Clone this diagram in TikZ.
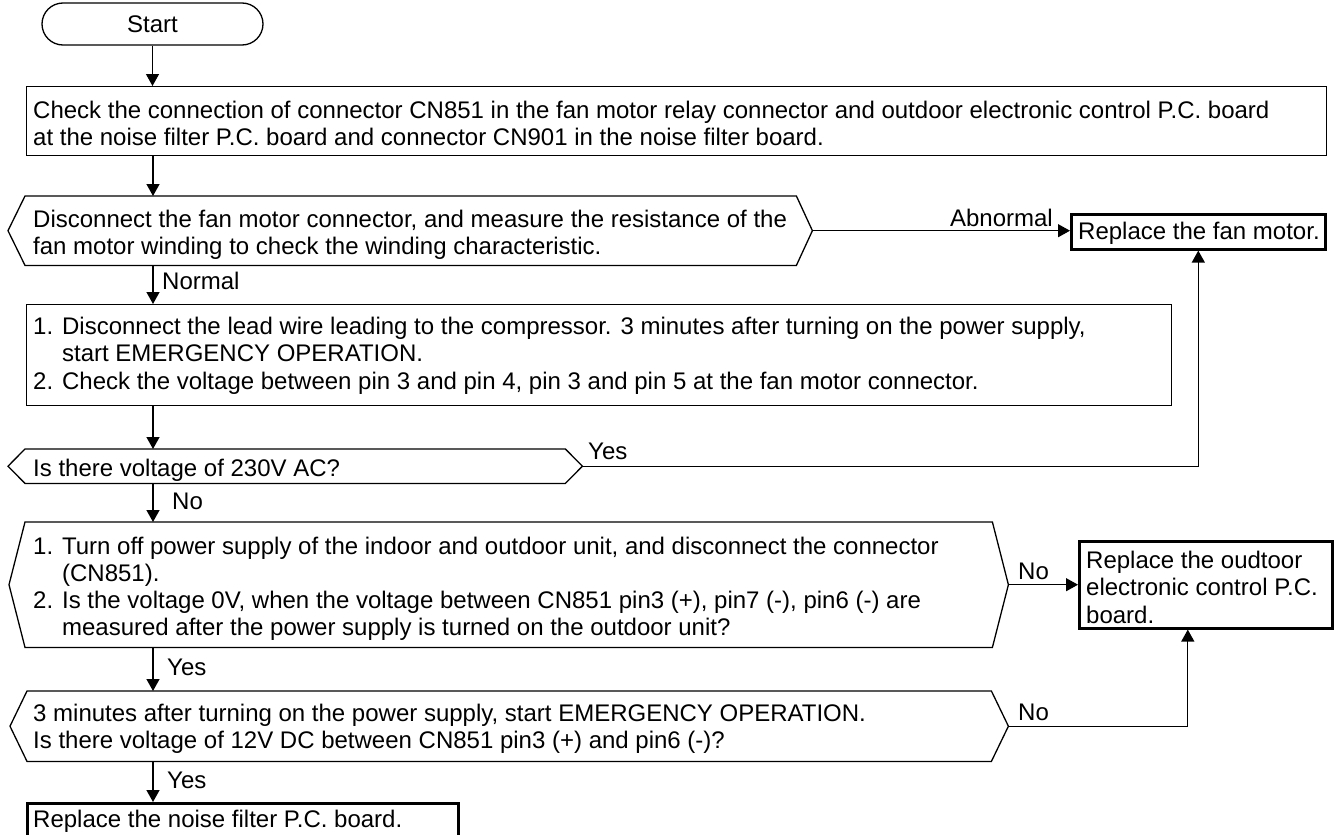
\documentclass[tikz,border=0pt]{standalone}
\usepackage{fontspec}
\setmainfont{Liberation Sans}
\usetikzlibrary{arrows.meta}
\newcommand\hexshape[3]{\draw[outline] (#1.west) -- ([xshift=#2]#1.north west) -- ([xshift=-#3]#1.north east) -- (#1.east) -- ([xshift=-#3]#1.south east) -- ([xshift=#2]#1.south west) -- cycle;}
\begin{document}
\begin{tikzpicture}[x=1pt,y=-1pt,
  fnt/.style={font=\fontsize{24.0}{27.3}\selectfont},
  txt/.style={fnt, inner sep=0pt, align=left, anchor=north west},
  lbl/.style={fnt, inner sep=0pt, anchor=base west},
  outline/.style={draw=black, line width=1.3pt},
  thickbox/.style={draw=black, line width=2.6pt, inner sep=0pt, anchor=north west},
  area/.style={inner sep=0pt, anchor=north west},
  flow/.style={draw=black, line width=1.3pt, -{Triangle[length=12pt,width=13pt]}},
  link/.style={draw=black, line width=1.3pt}]
\useasboundingbox (0,0) rectangle (1339,835);
\coordinate (spine) at (153,0);

% shapes
\node[outline, fnt, rounded corners=21pt, minimum width=221pt, minimum height=42pt, inner sep=0pt] (start) at (152.5,24) {Start};
\node[outline, area, minimum width=1300pt, minimum height=69pt] (b1) at (26,86) {};
\node[area, minimum width=804pt, minimum height=69pt] (h1) at (8,196) {};
\hexshape{h1}{17pt}{16pt}
\node[thickbox, minimum width=254pt, minimum height=35pt] (fan) at (1070,213) {};
\node[outline, area, minimum width=1145pt, minimum height=101pt] (b2) at (26,304) {};
\node[area, minimum width=574pt, minimum height=34pt] (h2) at (8,449) {};
\hexshape{h2}{17pt}{17pt}
\node[area, minimum width=999pt, minimum height=125pt] (h3) at (9,522) {};
\hexshape{h3}{16pt}{16pt}
\node[thickbox, minimum width=253pt, minimum height=87pt] (od) at (1078,540) {};
\node[area, minimum width=998pt, minimum height=70pt] (h4) at (10,691) {};
\hexshape{h4}{17pt}{17pt}
\node[thickbox, minimum width=431pt, minimum height=33pt] (fin) at (26,802) {};

% texts
\node[txt] (tb1) at (33,101) {Check the connection of connector CN851 in the fan motor relay connector and outdoor electronic control P.C. board\\at the noise filter P.C. board and connector CN901 in the noise filter board.};
\node[txt] (th1) at (33,210) {Disconnect the fan motor connector, and measure the resistance of the\\fan motor winding to check the winding characteristic.};
\node[txt] (tfan) at (1078,222) {Replace the fan motor.};
\node[txt] (tb2) at (33,317) {1. Disconnect the lead wire leading to the compressor. 3 minutes after turning on the power supply,\\\hphantom{1. }start EMERGENCY OPERATION.\\2. Check the voltage between pin 3 and pin 4, pin 3 and pin 5 at the fan motor connector.};
\node[txt] (th2) at (33,459) {Is there voltage of 230V AC?};
\node[txt] (th3) at (33,536.5) {1. Turn off power supply of the indoor and outdoor unit, and disconnect the connector\\\hphantom{1. }(CN851).\\2. Is the voltage 0V, when the voltage between CN851 pin3 (+), pin7 (-), pin6 (-) are\\\hphantom{2. }measured after the power supply is turned on the outdoor unit?};
\node[txt] (tod) at (1086,551) {Replace the oudtoor\\electronic control P.C.\\board.};
\node[txt] (th4) at (33,704) {3 minutes after turning on the power supply, start EMERGENCY OPERATION.\\Is there voltage of 12V DC between CN851 pin3 (+) and pin6 (-)?};
\node[txt] (tfin) at (33,810) {Replace the noise filter P.C. board.};

% connectors
\draw[flow] (start.south) -- (start.south |- b1.north);
\draw[flow] (b1.south -| spine) -- (h1.north -| spine);
\draw[flow] (h1.east) -- (h1.east -| fan.west);
\draw[flow] (h1.south -| spine) -- (b2.north -| spine);
\draw[flow] (b2.south -| spine) -- (h2.north -| spine);
\draw[flow] (h2.east) -| (fan.south);
\draw[flow] (h2.south -| spine) -- (h3.north -| spine);
\draw[flow] (h3.east) -- (h3.east -| od.west);
\draw[flow] (h3.south -| spine) -- (h4.north -| spine);
\draw[flow] (h4.east) -| ([xshift=-18pt]od.south);
\draw[flow] (h4.south -| spine) -- (fin.north -| spine);

% labels
\node[lbl, anchor=base east] (lab1) at (1053,226) {Abnormal};
\node[lbl] (lab2) at (162,289) {Normal};
\node[lbl] (lab3) at (588,459) {Yes};
\node[lbl] (lab4) at (172,509) {No};
\node[lbl] (lab5) at (1018,579) {No};
\node[lbl] (lab6) at (167,675) {Yes};
\node[lbl] (lab7) at (1018,720.5) {No};
\node[lbl] (lab8) at (167,788) {Yes};
\end{tikzpicture}
\end{document}
